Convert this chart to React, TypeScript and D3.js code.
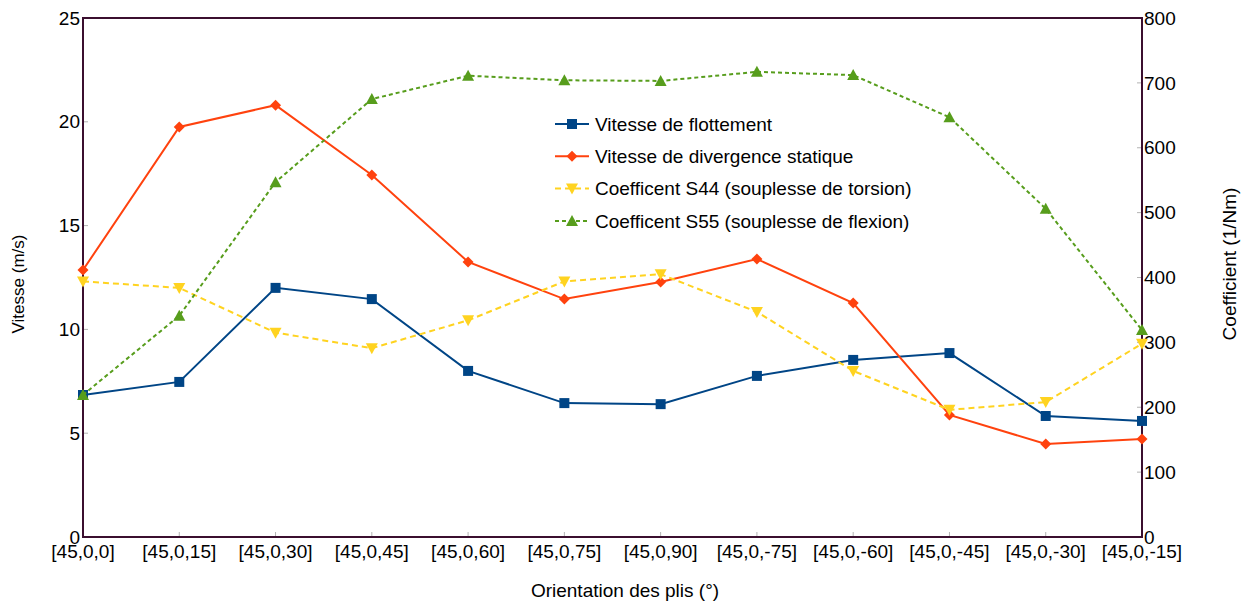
import React, { useEffect, useRef } from "react";
import * as d3 from "d3";

const categories = [
  "[45,0,0]", "[45,0,15]", "[45,0,30]", "[45,0,45]", "[45,0,60]", "[45,0,75]",
  "[45,0,90]", "[45,0,-75]", "[45,0,-60]", "[45,0,-45]", "[45,0,-30]", "[45,0,-15]",
];
const flottement = [6.84, 7.47, 12.0, 11.46, 8.0, 6.45, 6.4, 7.76, 8.53, 8.86, 5.83, 5.59];
const divergence = [12.86, 19.75, 20.8, 17.44, 13.25, 11.46, 12.28, 13.39, 11.27, 5.88, 4.48, 4.72];
const s44 = [394, 384, 315, 291, 334, 394, 405, 347, 256, 196, 208, 298];
const s55 = [219, 341, 547, 675, 711, 704, 703, 717, 712, 647, 506, 319];
const leftTicks = [0, 5, 10, 15, 20, 25];
const rightTicks = [0, 100, 200, 300, 400, 500, 600, 700, 800];

const W = 1246;
const H = 604;
const m = { left: 83, right: 104, top: 18, bottom: 67 };
const font = "'Liberation Sans', Arial, sans-serif";
const fs = 19;

const series = [
  { name: "Vitesse de flottement", values: flottement, axis: "left", color: "#004586", dash: null, marker: "square" },
  { name: "Vitesse de divergence statique", values: divergence, axis: "left", color: "#ff420e", dash: null, marker: "diamond" },
  { name: "Coefficent S44 (souplesse de torsion)", values: s44, axis: "right", color: "#ffd320", dash: "6,4", marker: "down" },
  { name: "Coefficent S55 (souplesse de flexion)", values: s55, axis: "right", color: "#579d1c", dash: "4,3", marker: "up" },
];

function markerPath(kind: string) {
  if (kind === "square") return "M-5,-5H5V5H-5Z";
  if (kind === "diamond") return "M0,-5.5L5.5,0L0,5.5L-5.5,0Z";
  if (kind === "down") return "M-6,-5H6L0,6Z";
  return "M0,-6L6,5H-6Z";
}

export default function App() {
  const ref = useRef<SVGSVGElement>(null);

  useEffect(() => {
    const svg = d3.select(ref.current);
    svg.selectAll("*").remove();

    const x = d3.scalePoint().domain(categories).range([m.left, W - m.right]);
    const yL = d3.scaleLinear().domain([0, 25]).range([H - m.bottom, m.top]);
    const yR = d3.scaleLinear().domain([0, 800]).range([H - m.bottom, m.top]);
    const axisColor = "#3b0f2f";

    // ticks (inside)
    const g = svg.append("g");
    g.selectAll(".lt").data(leftTicks).enter().append("line")
      .attr("x1", m.left).attr("x2", m.left + 5)
      .attr("y1", (d) => yL(d)).attr("y2", (d) => yL(d))
      .attr("stroke", "#b3b3b3");
    g.selectAll(".rt").data(rightTicks).enter().append("line")
      .attr("x1", W - m.right - 5).attr("x2", W - m.right)
      .attr("y1", (d) => yR(d)).attr("y2", (d) => yR(d))
      .attr("stroke", "#b3b3b3");
    g.selectAll(".bt").data(categories).enter().append("line")
      .attr("x1", (d) => x(d)!).attr("x2", (d) => x(d)!)
      .attr("y1", H - m.bottom - 5).attr("y2", H - m.bottom)
      .attr("stroke", "#b3b3b3");

    // frame
    svg.append("rect")
      .attr("x", m.left).attr("y", m.top)
      .attr("width", W - m.left - m.right).attr("height", H - m.top - m.bottom)
      .attr("fill", "none").attr("stroke", axisColor).attr("stroke-width", 2);

    // tick labels
    g.selectAll(".ll").data(leftTicks).enter().append("text")
      .attr("x", m.left - 3).attr("y", (d) => yL(d)).attr("dy", "0.35em")
      .attr("text-anchor", "end").attr("font-size", fs).attr("font-family", font)
      .text((d) => d);
    g.selectAll(".rl").data(rightTicks).enter().append("text")
      .attr("x", W - m.right + 2).attr("y", (d) => yR(d)).attr("dy", "0.35em")
      .attr("text-anchor", "start").attr("font-size", fs).attr("font-family", font)
      .text((d) => d);
    g.selectAll(".bl").data(categories).enter().append("text")
      .attr("x", (d) => x(d)!).attr("y", H - m.bottom + 14).attr("dy", "0.35em")
      .attr("text-anchor", "middle").attr("font-size", fs).attr("font-family", font)
      .text((d) => d);

    // axis titles
    svg.append("text")
      .attr("transform", `translate(24,284) rotate(-90)`)
      .attr("text-anchor", "middle").attr("font-size", 17).attr("font-family", font)
      .text("Vitesse (m/s)");
    svg.append("text")
      .attr("transform", `translate(1236,264) rotate(-90)`)
      .attr("text-anchor", "middle").attr("font-size", fs).attr("font-family", font)
      .text("Coefficient (1/Nm)");
    svg.append("text")
      .attr("x", 625).attr("y", 597)
      .attr("text-anchor", "middle").attr("font-size", fs).attr("font-family", font)
      .text("Orientation des plis (°)");

    // series
    series.forEach((s) => {
      const y = s.axis === "left" ? yL : yR;
      const line = d3.line<number>().x((d, i) => x(categories[i])!).y((d) => y(d));
      svg.append("path").datum(s.values).attr("d", line)
        .attr("fill", "none").attr("stroke", s.color).attr("stroke-width", 2)
        .attr("stroke-dasharray", s.dash);
      svg.selectAll(null).data(s.values).enter().append("path")
        .attr("d", markerPath(s.marker))
        .attr("transform", (d, i) => `translate(${x(categories[i])},${y(d)})`)
        .attr("fill", s.color);
    });

    // legend
    const lg = svg.append("g").attr("transform", "translate(555,124)");
    series.forEach((s, i) => {
      const row = lg.append("g").attr("transform", `translate(0,${i * 32.3})`);
      row.append("line").attr("x1", 0).attr("x2", 34).attr("y1", 0).attr("y2", 0)
        .attr("stroke", s.color).attr("stroke-width", 2).attr("stroke-dasharray", s.dash);
      row.append("path").attr("d", markerPath(s.marker))
        .attr("transform", "translate(17,0)").attr("fill", s.color);
      row.append("text").attr("x", 40).attr("dy", "0.35em")
        .attr("font-size", fs).attr("font-family", font).text(s.name);
    });
  }, []);

  return (
    <svg ref={ref} width={W} height={H} style={{ position: "absolute", left: 0, top: 0 }} />
  );
}
